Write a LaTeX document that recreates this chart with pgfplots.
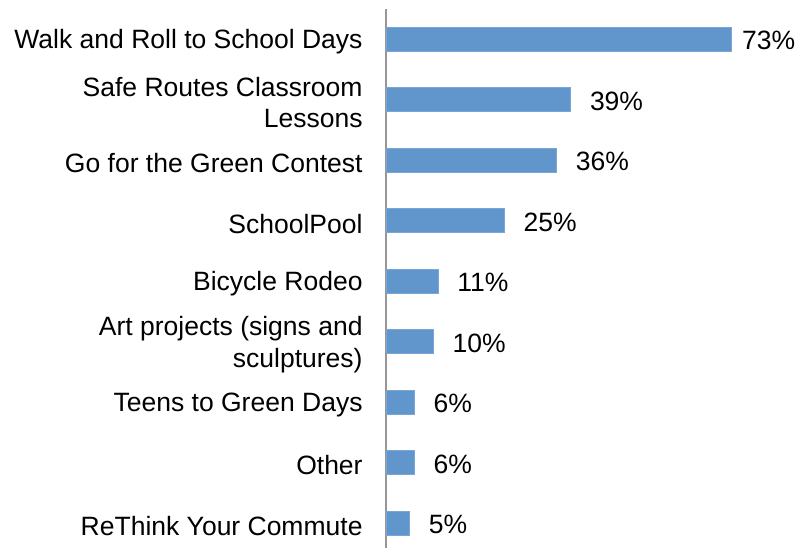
\documentclass[border=0pt]{standalone}
\usepackage{pgfplots}
\pgfplotsset{compat=1.18}
\usepackage{fontspec}
\setmainfont{Liberation Sans}
\definecolor{barblue}{RGB}{97,150,204}
\definecolor{axgray}{RGB}{150,150,150}
\begin{document}
\begin{tikzpicture}
\useasboundingbox (0,0) rectangle (797bp,548bp);
\begin{axis}[
  at={(386bp,0bp)}, anchor=south west,
  scale only axis,
  width=411bp, height=539.2bp,
  xbar, bar width=24bp,
  xmin=0, xmax=86.78,
  ymin=-0.5, ymax=8.413,
  y dir=reverse,
  axis x line=none,
  axis y line*=left,
  y axis line style={draw=axgray, line width=1.5bp, -},
  ytick={0,...,8},
  yticklabels={Walk and Roll to School Days, {Safe Routes Classroom\\Lessons}, Go for the Green Contest, SchoolPool, Bicycle Rodeo, {Art projects (signs and\\sculptures)}, Teens to Green Days, Other, ReThink Your Commute},
  ytick style={draw=none},
  yticklabel style={anchor=east, align=right, inner sep=0pt, xshift=-19bp, yshift=-3bp, font=\fontsize{26.6}{31.5}\selectfont},
  /pgf/number format/assume math mode=true,
  nodes near coords={\pgfmathprintnumber{\pgfplotspointmeta}\%},
  point meta=x,
  nodes near coords style={anchor=west, inner sep=0pt, xshift=19bp, yshift=-1.5bp, font=\fontsize{26.6}{31.5}\selectfont, text=black},
  coordinate style/.condition={x>70}{xshift=-9bp},
  clip=false,
]
\addplot[fill=barblue, draw=barblue!85!white, line width=0.6bp] coordinates {
(73,0) (39,1) (36,2) (25,3) (11,4) (10,5) (6,6) (6,7) (5,8)
};
\end{axis}
\end{tikzpicture}
\end{document}
